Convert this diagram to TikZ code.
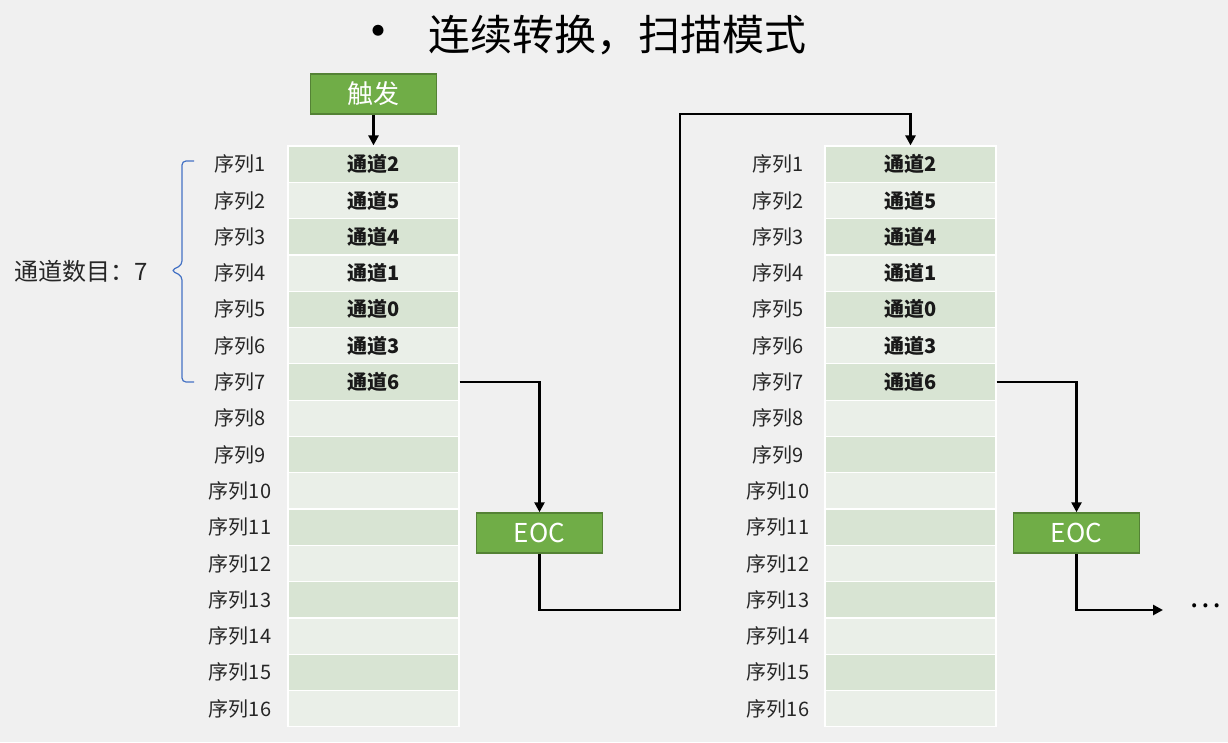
\documentclass[tikz,border=0pt]{standalone}
\usepackage{fontspec}
\setmainfont{Noto Sans CJK SC}
\usetikzlibrary{arrows.meta}
\definecolor{pagebg}{HTML}{F0F0F0}
\definecolor{rowdark}{HTML}{D8E4D3}
\definecolor{rowlight}{HTML}{EAEFE8}
\definecolor{boxgreen}{HTML}{70AD47}
\definecolor{boxedge}{HTML}{548235}
\definecolor{bracecol}{HTML}{4472C4}
\tikzset{
    cell/.style={draw=white, line width=1.2pt, minimum width=171pt,
        minimum height=36.3pt, inner sep=0pt},
    row1/.style={fill=rowdark},
    row0/.style={fill=rowlight},
    chtext/.style={font=\fontsize{20}{22}\selectfont\bfseries, text=black!90},
    seqlabel/.style={font=\fontsize{20}{22}\selectfont, text=black!85},
    greenbox/.style={draw=boxedge, line width=1.5pt, fill=boxgreen,
        text=white, minimum width=126pt, minimum height=40pt,
        font=\fontsize{26}{28}\selectfont},
    link/.style={line width=2.6pt, -{Triangle[length=10pt,width=10pt]}}
}

\begin{document}
\begin{tikzpicture}[x=1pt, y=-1pt]
    \fill[pagebg] (0,0) rectangle (1228,742);
    % Title
    \node[font=\fontsize{52}{54}\selectfont, inner sep=0pt, anchor=base] (bullet) at (378,50) {•};
    \node[font=\fontsize{42}{44}\selectfont, anchor=west, inner sep=0pt] (title) at (428,35) {连续转换，扫描模式};
    % Sequence tables
    \foreach \side/\cx/\lx in {L/373.5/240, R/910.5/778}{
        \foreach \i in {1,...,16}{
            \pgfmathtruncatemacro\shade{mod(\i,2)}
            \node[cell, row\shade] (\side\i) at (\cx, 146+36.3*\i-18.15) {};
            \node[seqlabel] (\side lab\i) at (\lx, 146+36.3*\i-18.15) {序列\i};
        }
        \foreach \i/\ch in {1/2,2/5,3/4,4/1,5/0,6/3,7/6}
            \node[chtext] (\side ch\i) at (\side\i) {通道\ch};
    }
    % Boxes
    \node[greenbox] (trig) at (373.5,94) {触发};
    \node[greenbox] (eocL) at (539.5,533) {EOC};
    \node[greenbox] (eocR) at (1076.5,533) {EOC};
    \coordinate (loopA) at (680,610);
    \coordinate (loopB) at (680,114);
    \coordinate (tail) at (1163,610);
    \node[font=\fontsize{30}{32}\selectfont] (more) at (1205,606) {…};
    % Channel count
    \node[font=\fontsize{24}{26}\selectfont, text=black!85] (count) at (81,271) {通道数目：7};
    \draw[bracecol, line width=1.2pt, rounded corners=4pt]
        (194,161) -- (182,161) -- (182,265) -- (171,270.5) -- (182,276) -- (182,382) -- (194,382);
    % Connectors
    \draw[link] (trig) -- (L1);
    \draw[link] (L7.east) -| (eocL.north);
    \draw[link] (eocL.south) |- (loopA) -- (loopB) -| (R1.north);
    \draw[link] (R7.east) -| (eocR.north);
    \draw[link] (eocR.south) |- (tail);
\end{tikzpicture}
\end{document}
